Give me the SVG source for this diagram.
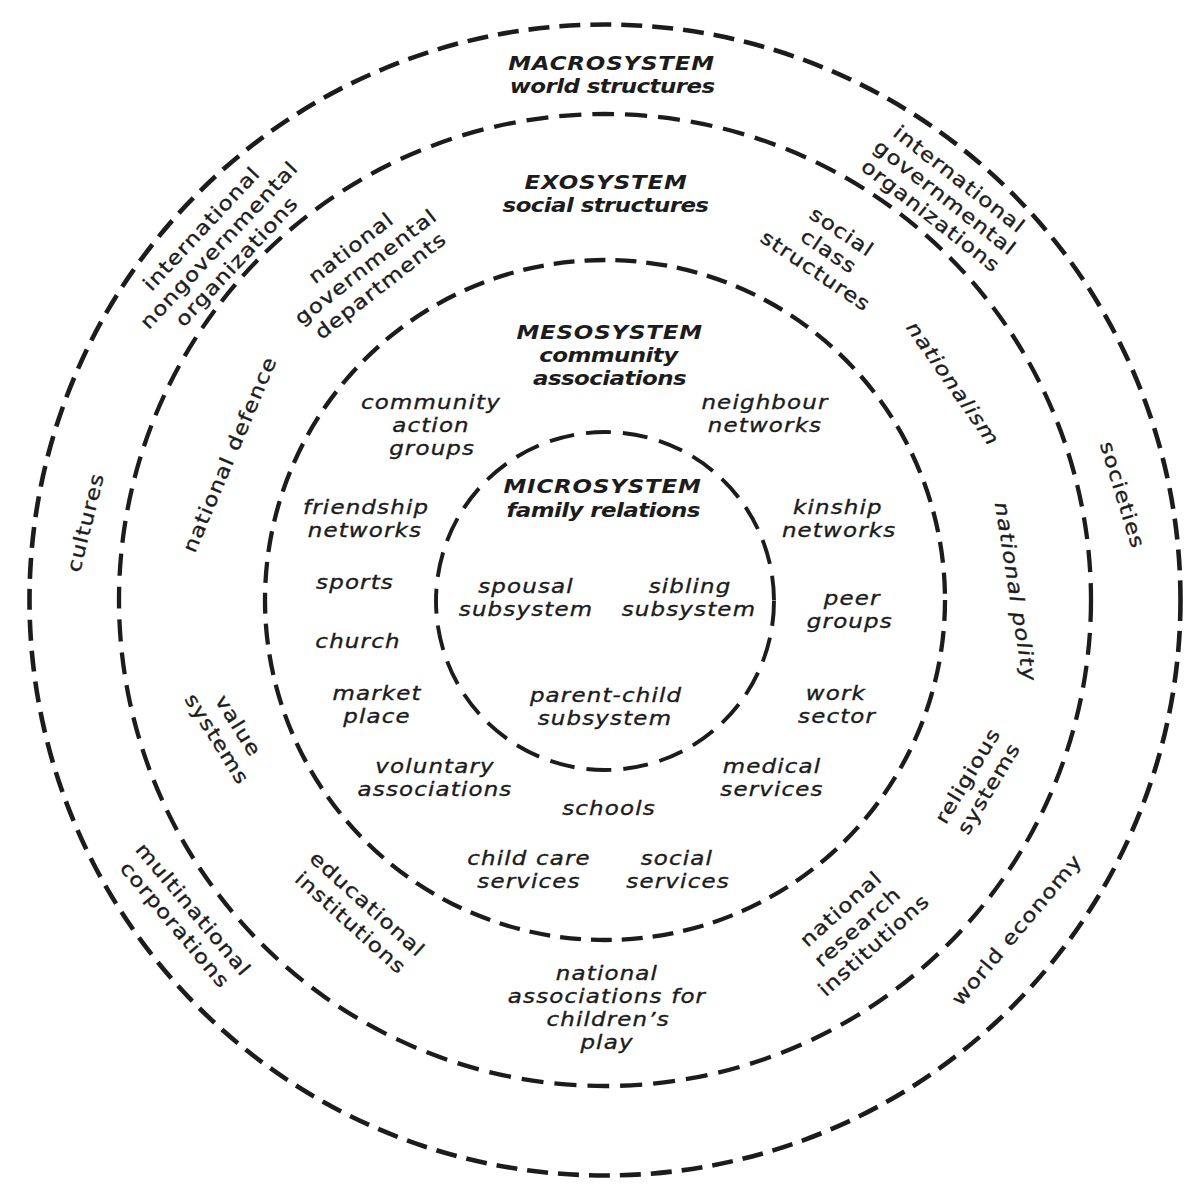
<svg xmlns="http://www.w3.org/2000/svg" width="1200" height="1204" viewBox="0 0 1200 1204">
<style>
.ring{fill:none;stroke:#1c1c1c;}
.t{font-family:"DejaVu Sans","Liberation Sans",sans-serif;font-size:19.6px;letter-spacing:1px;fill:#1c1c1c;stroke:#1c1c1c;stroke-width:0.35px;text-anchor:middle;}
.i{font-style:italic;}
.b{font-family:"DejaVu Sans","Liberation Sans",sans-serif;font-size:19.6px;font-weight:bold;font-style:italic;fill:#1c1c1c;text-anchor:middle;letter-spacing:-0.5px;}
.cap{letter-spacing:0.7px;}
</style>
<rect width="1200" height="1204" fill="#ffffff"/>
<g id="rings">
<circle class="ring" cx="605" cy="600" r="575.5" stroke-width="4.6" stroke-dasharray="21 10"/>
<circle class="ring" cx="605" cy="600" r="486" stroke-width="4.3" stroke-dasharray="22 11"/>
<circle class="ring" cx="605" cy="600" r="340" stroke-width="4.3" stroke-dasharray="21 10"/>
<circle class="ring" cx="605" cy="601" r="169" stroke-width="3.9" stroke-dasharray="25 12"/>
</g>
<g id="macrosystem">
<text class="b" transform="translate(611.5,0) scale(1.17,1)"><tspan class="cap" x="0" y="70.5">MACROSYSTEM</tspan><tspan x="0.5" y="93.5">world structures</tspan></text>
</g>
<g id="exosystem">
<text class="b" transform="translate(605.5,0) scale(1.17,1)"><tspan class="cap" x="0.5" y="189">EXOSYSTEM</tspan><tspan x="0" y="212">social structures</tspan></text>
</g>
<g id="mesosystem">
<text class="b" transform="translate(609,0) scale(1.17,1)"><tspan class="cap" x="0.5" y="339">MESOSYSTEM</tspan><tspan x="-0.5" y="362">community</tspan><tspan x="0.5" y="385">associations</tspan></text>
</g>
<g id="microsystem">
<text class="b" transform="translate(602.5,0) scale(1.17,1)"><tspan class="cap" x="0" y="493">MICROSYSTEM</tspan><tspan x="0.5" y="517">family relations</tspan></text>
</g>
<g id="micro-items">
<g id="spousal"><text class="t i" transform="translate(526,0) scale(1.17,1)"><tspan x="0" y="593">spousal</tspan><tspan x="0" y="616">subsystem</tspan></text></g>
<g id="sibling"><text class="t i" transform="translate(689.5,0) scale(1.17,1)"><tspan x="0.5" y="593">sibling</tspan><tspan x="-0.5" y="616">subsystem</tspan></text></g>
<g id="parent-child"><text class="t i" transform="translate(605.5,0) scale(1.17,1)"><tspan x="0.5" y="702">parent-child</tspan><tspan x="-0.5" y="725">subsystem</tspan></text></g>
</g>
<g id="meso-items">
<g id="community-action"><text class="t i" transform="translate(431,0) scale(1.17,1)"><tspan x="0" y="409">community</tspan><tspan x="0" y="432">action</tspan><tspan x="1" y="455">groups</tspan></text></g>
<g id="neighbour"><text class="t i" transform="translate(765,0) scale(1.17,1)"><tspan x="0" y="409">neighbour</tspan><tspan x="0" y="432">networks</tspan></text></g>
<g id="friendship"><text class="t i" transform="translate(365.5,0) scale(1.17,1)"><tspan x="0.5" y="514">friendship</tspan><tspan x="-0.5" y="537">networks</tspan></text></g>
<g id="kinship"><text class="t i" transform="translate(838.5,0) scale(1.17,1)"><tspan x="-0.5" y="514">kinship</tspan><tspan x="0.5" y="537">networks</tspan></text></g>
<g id="sports"><text class="t i" transform="translate(355,0) scale(1.17,1)" x="0" y="589">sports</text></g>
<g id="peer"><text class="t i" transform="translate(851,0) scale(1.17,1)"><tspan x="1" y="605">peer</tspan><tspan x="-1" y="628">groups</tspan></text></g>
<g id="church"><text class="t i" transform="translate(358,0) scale(1.17,1)" x="0" y="648">church</text></g>
<g id="market"><text class="t i" transform="translate(377,0) scale(1.17,1)"><tspan x="0" y="700">market</tspan><tspan x="0" y="723">place</tspan></text></g>
<g id="work"><text class="t i" transform="translate(836.5,0) scale(1.17,1)"><tspan x="-0.5" y="700">work</tspan><tspan x="0.5" y="723">sector</tspan></text></g>
<g id="voluntary"><text class="t i" transform="translate(435,0) scale(1.17,1)"><tspan x="0" y="773">voluntary</tspan><tspan x="0" y="796">associations</tspan></text></g>
<g id="medical"><text class="t i" transform="translate(772,0) scale(1.17,1)"><tspan x="0" y="773">medical</tspan><tspan x="0" y="796">services</tspan></text></g>
<g id="schools"><text class="t i" transform="translate(609,0) scale(1.17,1)" x="0" y="815">schools</text></g>
<g id="child-care"><text class="t i" transform="translate(529,0) scale(1.17,1)"><tspan x="0" y="865">child care</tspan><tspan x="0" y="888">services</tspan></text></g>
<g id="social-services"><text class="t i" transform="translate(677.5,0) scale(1.17,1)"><tspan x="-0.5" y="865">social</tspan><tspan x="0.5" y="888">services</tspan></text></g>
</g>
<g id="exo-items">
<g id="nat-gov-dep" transform="translate(370,272) rotate(-38) scale(1.17,1)"><text class="t"><tspan x="0" y="-24">national</tspan><tspan x="0" y="0">governmental</tspan><tspan x="0" y="24">departments</tspan></text></g>
<g id="social-class" transform="translate(825,257) rotate(34) scale(1.17,1)"><text class="t"><tspan x="0" y="-23.5">social</tspan><tspan x="0" y="0">class</tspan><tspan x="0" y="23.5">structures</tspan></text></g>
<g id="national-defence" transform="translate(236,457) rotate(-67) scale(1.17,1)"><text class="t" x="0" y="0">national defence</text></g>
<g id="nationalism" transform="translate(947.5,387.6) rotate(55) scale(1.17,1)"><text class="t i" x="0" y="0">nationalism</text></g>
<g id="national-polity" transform="translate(1009,593) rotate(81) scale(1.17,1)"><text class="t i" x="0" y="0">national polity</text></g>
<g id="value-systems" transform="translate(222,736) rotate(58) scale(1.17,1)"><text class="t"><tspan x="0" y="-12.5">value</tspan><tspan x="0" y="12.5">systems</tspan></text></g>
<g id="religious-systems" transform="translate(984,785.5) rotate(-59) scale(1.17,1)"><text class="t"><tspan x="0" y="-12.3">religious</tspan><tspan x="0" y="12.3">systems</tspan></text></g>
<g id="educational" transform="translate(354.5,918.5) rotate(42) scale(1.17,1)"><text class="t"><tspan x="0" y="-12.6">educational</tspan><tspan x="0" y="12.6">institutions</tspan></text></g>
<g id="research" transform="translate(862,932) rotate(-42) scale(1.17,1)"><text class="t"><tspan x="0" y="-24.5">national</tspan><tspan x="0" y="0">research</tspan><tspan x="0" y="24.5">institutions</tspan></text></g>
<g id="childrens-play"><text class="t i" transform="translate(607,0) scale(1.17,1)"><tspan x="0" y="980">national</tspan><tspan x="0" y="1003">associations for</tspan><tspan x="1" y="1026">children’s</tspan><tspan x="0" y="1049">play</tspan></text></g>
</g>
<g id="macro-items">
<g id="ingo" transform="translate(224,249.5) rotate(-47) scale(1.17,1)"><text class="t"><tspan x="0" y="-24">international</tspan><tspan x="0" y="0">nongovernmental</tspan><tspan x="0" y="24">organizations</tspan></text></g>
<g id="igo" transform="translate(941,203) rotate(38) scale(1.17,1)"><text class="t"><tspan x="0" y="-23.2">international</tspan><tspan x="0" y="0">governmental</tspan><tspan x="0" y="23.2">organizations</tspan></text></g>
<g id="cultures" transform="translate(92,524) rotate(-76) scale(1.17,1)"><text class="t" x="0" y="0">cultures</text></g>
<g id="societies" transform="translate(1116,497) rotate(73) scale(1.17,1)"><text class="t" x="0" y="0">societies</text></g>
<g id="multinational" transform="translate(179,921.5) rotate(50) scale(1.17,1)"><text class="t"><tspan x="0" y="-12">multinational</tspan><tspan x="0" y="12">corporations</tspan></text></g>
<g id="world-economy" transform="translate(1022,934) rotate(-50) scale(1.17,1)"><text class="t" x="0" y="0">world economy</text></g>
</g>
</svg>
